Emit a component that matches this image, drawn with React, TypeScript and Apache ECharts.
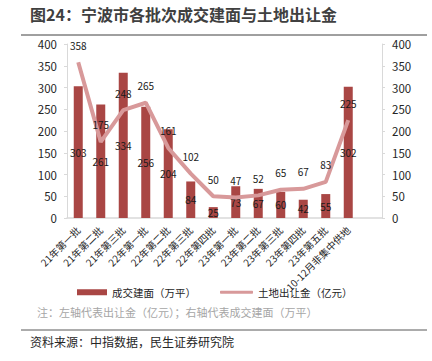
import React, { useEffect, useRef } from "react";
import * as echarts from "echarts";

const categories = [
  "21年第一批", "21年第二批", "21年第三批", "22年第一批", "22年第二批", "22年第三批",
  "22年第四批", "23年第一批", "23年第二批", "23年第三批", "23年第四批", "23年第五批",
  "10-12月非集中供地", "",
];
const areaValues = [303, 261, 334, 256, 204, 84, 25, 73, 67, 60, 42, 55, 302];
const landValues = [358, 175, 248, 265, 161, 102, 50, 47, 52, 65, 67, 83, 225];
const axisTicks = [0, 50, 100, 150, 200, 250, 300, 350, 400];

const FONT = "'Noto Sans CJK SC', 'Noto Sans', sans-serif";
const BAR = "#A94644";
const LINE = "#D8999A";

export default function App() {
  const ref = useRef<HTMLDivElement>(null);
  useEffect(() => {
    if (!ref.current) return;
    const chart = echarts.init(ref.current, null, { renderer: "svg" });
    const yMax = axisTicks[axisTicks.length - 1];
    const yInt = axisTicks[1] - axisTicks[0];
    const yAxisBase = {
      type: "value" as const,
      min: axisTicks[0],
      max: yMax,
      interval: yInt,
      splitLine: { show: false },
      axisLine: { show: true, lineStyle: { color: "#D9D9D9", width: 1 } },
      axisTick: { show: true, length: 3, lineStyle: { color: "#D9D9D9" } },
      axisLabel: { fontSize: 11.5, color: "#262626", fontFamily: FONT, margin: 10 },
    };
    chart.setOption({
      animation: false,
      textStyle: { fontFamily: FONT },
      grid: { left: 67, right: 50, top: 44, bottom: 143, containLabel: false },
      legend: [
        {
          data: ["成交建面（万平）"],
          left: 77,
          top: 287,
          itemWidth: 30,
          itemHeight: 6,
          icon: "rect",
          padding: 0,
          textStyle: { fontSize: 10.5, color: "#262626", fontFamily: FONT },
          itemGap: 4,
        },
        {
          data: ["土地出让金（亿元）"],
          left: 220,
          top: 287,
          itemWidth: 33,
          itemHeight: 3,
          icon: "roundRect",
          padding: 0,
          textStyle: { fontSize: 10.5, color: "#262626", fontFamily: FONT },
        },
      ],
      xAxis: {
        type: "category",
        data: categories,
        boundaryGap: true,
        axisLine: { show: true, lineStyle: { color: "#D9D9D9", width: 1.5 } },
        axisTick: { show: false },
        axisLabel: {
          rotate: 45,
          interval: 0,
          fontSize: 10,
          color: "#262626",
          fontFamily: FONT,
          margin: 10,
        },
      },
      yAxis: [
        { ...yAxisBase, position: "left" },
        { ...yAxisBase, position: "right" },
      ],
      series: [
        {
          name: "成交建面（万平）",
          type: "bar",
          yAxisIndex: 1,
          data: areaValues,
          barWidth: 9,
          itemStyle: { color: BAR },
          label: {
            show: true,
            position: "inside",
            color: "#1a1a1a",
            fontSize: 10,
            fontFamily: FONT,
          },
          z: 2,
        },
        {
          name: "土地出让金（亿元）",
          type: "line",
          yAxisIndex: 0,
          data: landValues,
          showSymbol: true,
          symbol: "circle",
          symbolSize: 0,
          lineStyle: { color: LINE, width: 4 },
          itemStyle: { color: LINE },
          label: {
            show: true,
            position: "top",
            distance: 12,
            color: "#1a1a1a",
            fontSize: 10,
            fontFamily: FONT,
          },
          z: 3,
        },
      ],
      graphic: [
        {
          type: "text",
          left: 30,
          top: 6,
          style: {
            text: "图24：宁波市各批次成交建面与土地出让金",
            fontSize: 16,
            fontWeight: "bold",
            fill: "#404040",
            fontFamily: FONT,
          },
        },
        {
          type: "line",
          shape: { x1: 21, y1: 35, x2: 427, y2: 35 },
          style: { stroke: "#404040", lineWidth: 1 },
        },
        {
          type: "text",
          left: 37,
          top: 306,
          style: {
            text: "注：左轴代表出让金（亿元）；右轴代表成交建面（万平）",
            fontSize: 11,
            fill: "#A6A6A6",
            fontFamily: FONT,
          },
        },
        {
          type: "line",
          shape: { x1: 21, y1: 330, x2: 427, y2: 330 },
          style: { stroke: "#595959", lineWidth: 1 },
        },
        {
          type: "text",
          left: 30,
          top: 335,
          style: {
            text: "资料来源：中指数据，民生证券研究院",
            fontSize: 12,
            fill: "#262626",
            fontFamily: FONT,
          },
        },
      ],
    });
    return () => chart.dispose();
  }, []);
  return (
    <div
      ref={ref}
      style={{ position: "fixed", left: 0, top: 0, width: 432, height: 361, background: "#fff" }}
    />
  );
}
